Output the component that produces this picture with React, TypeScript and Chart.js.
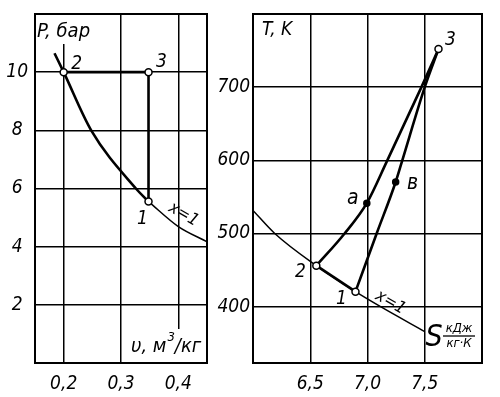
import React, { useEffect, useRef } from 'react';
import { Chart, registerables } from 'chart.js';
Chart.register(...registerables);

const FONT = "'DejaVu Sans Condensed', 'Liberation Sans Narrow', 'DejaVu Sans', sans-serif";

// ---------- P-v diagram ----------
const pvXTicks = [0.2, 0.3, 0.4];
const pvYTicks = [2, 4, 6, 8, 10];
const pvSatV = [0.184, 0.2, 0.248, 0.326, 0.348];
const pvSatP = [10.65, 10, 8, 6, 5.55];
const pvSatTailV = [0.348, 0.4, 0.45];
const pvSatTailP = [5.55, 4.69, 4.17];
const pvCycleV = [0.2, 0.348, 0.348];
const pvCycleP = [10, 10, 5.55];
const pvPointNames = ['1', '2', '3'];
const pvPointV = [0.348, 0.2, 0.348];
const pvPointP = [5.55, 10, 10];

// ---------- T-s diagram ----------
const tsXTicks = [6.5, 7.0, 7.5];
const tsYTicks = [400, 500, 600, 700];
const tsSatS = [6.0, 6.19, 6.553, 6.895, 7.114, 7.5];
const tsSatT = [531.5, 500, 456, 420.5, 400, 366];
const ts21S = [6.553, 6.895];
const ts21T = [456, 420.5];
const tsIsobarS = [6.553, 6.8, 6.994, 7.173, 7.471, 7.62];
const tsIsobarT = [456, 500, 541.5, 600, 700, 752];
const tsIsochoreS = [6.895, 7.08, 7.246, 7.304, 7.5, 7.62];
const tsIsochoreT = [420.5, 500, 570.4, 600, 700, 752];
const tsOpenNames = ['2', '1', '3'];
const tsOpenS = [6.553, 6.895, 7.62];
const tsOpenT = [456, 420.5, 752];
const tsDotNames = ['a', 'в'];
const tsDotS = [6.994, 7.246];
const tsDotT = [541.5, 570.4];

const zip = (xs: number[], ys: number[]) => xs.map((x, i) => ({ x, y: ys[i] }));
const fmt = (v: number) => v.toFixed(1).replace('.', ',');

function txt(ctx: CanvasRenderingContext2D, s: string, x: number, y: number, size: number, align: CanvasTextAlign = 'center', rot = 0, baseline: CanvasTextBaseline = 'middle') {
  ctx.save();
  ctx.font = `italic ${size}px ${FONT}`;
  ctx.fillStyle = '#000';
  ctx.textAlign = align;
  ctx.textBaseline = baseline;
  ctx.translate(x, y);
  if (rot) ctx.rotate((rot * Math.PI) / 180);
  ctx.fillText(s, 0, 0);
  ctx.restore();
}

function frame(chart: any) {
  const { ctx, chartArea: a } = chart;
  ctx.save();
  ctx.strokeStyle = '#000';
  ctx.lineWidth = 2;
  ctx.strokeRect(a.left, a.top, a.right - a.left, a.bottom - a.top);
  ctx.restore();
}

function whiteBox(ctx: CanvasRenderingContext2D, x: number, y: number, w: number, h: number) {
  ctx.save();
  ctx.fillStyle = '#fff';
  ctx.fillRect(x, y, w, h);
  ctx.restore();
}

const lineDs = (data: any[], width: number, order = 2) => ({
  data,
  showLine: true,
  borderColor: '#000',
  borderWidth: width,
  pointRadius: 0,
  cubicInterpolationMode: 'monotone' as const,
  order,
});

const pointDs = (data: any[], open: boolean) => ({
  data,
  showLine: false,
  pointRadius: open ? 3.5 : 3,
  pointBackgroundColor: open ? '#fff' : '#000',
  pointBorderColor: '#000',
  pointBorderWidth: 1.5,
  order: 0,
});

function axisOpts(min: number, max: number, tickVals: number[], fmtFn: (v: number) => string, isX: boolean, extra: any = {}) {
  return {
    type: 'linear',
    min,
    max,
    afterBuildTicks: (s: any) => {
      s.ticks = tickVals.map((v) => ({ value: v }));
    },
    afterFit: (s: any) => {
      if (isX) s.height = 34;
      else s.width = extra.width;
      s.paddingTop = 0;
      s.paddingBottom = 0;
      s.paddingLeft = 0;
      s.paddingRight = 0;
    },
    ticks: {
      callback: (v: any) => fmtFn(Number(v)),
      color: '#000',
      font: { family: FONT, size: 19, style: 'italic' },
      padding: extra.padding ?? 8,
      crossAlign: extra.crossAlign ?? 'near',
      maxRotation: 0,
      autoSkip: false,
    },
    grid: { color: '#000', lineWidth: 1.5, drawTicks: false },
    border: { color: '#000', width: 2 },
  };
}

function PvChart() {
  const ref = useRef<HTMLCanvasElement>(null);
  useEffect(() => {
    const plugin = {
      id: 'pvAnnot',
      beforeDatasetsDraw(chart: any) {
        const { ctx, chartArea: a } = chart;
        whiteBox(ctx, a.left + 1, a.top + 1, 60, 29);
        whiteBox(ctx, a.right - 81, a.bottom - 34, 80, 33);
      },
      afterDatasetsDraw(chart: any) {
        const { ctx, chartArea: a, scales } = chart;
        const X = (v: number) => scales.x.getPixelForValue(v);
        const Y = (v: number) => scales.y.getPixelForValue(v);
        frame(chart);
        txt(ctx, 'P, бар', a.left + 2, a.top + 23, 20, 'left', 0, 'alphabetic');
        const offs = [
          [-6, 17],
          [13, -8],
          [13, -10],
        ];
        pvPointNames.forEach((n, i) => {
          txt(ctx, n, X(pvPointV[i]) + offs[i][0], Y(pvPointP[i]) + offs[i][1], 19);
        });
        txt(ctx, 'x=1', X(pvPointV[0]) + 35, Y(pvPointP[0]) + 13, 17, 'center', 30);
        // axis label υ, м³/кг
        ctx.save();
        let x = a.right - 76;
        const yb = a.bottom - 11;
        ctx.font = `italic 20px ${FONT}`;
        const p1 = 'υ, м';
        txt(ctx, p1, x, yb, 20, 'left', 0, 'alphabetic');
        x += ctx.measureText(p1).width + 1;
        txt(ctx, '3', x, yb - 11, 13, 'left', 0, 'alphabetic');
        ctx.font = `italic 13px ${FONT}`;
        x += ctx.measureText('3').width;
        txt(ctx, '/кг', x, yb, 20, 'left', 0, 'alphabetic');
        ctx.restore();
      },
    };
    const chart = new Chart(ref.current as HTMLCanvasElement, {
      type: 'scatter',
      data: {
        datasets: [
          pointDs(zip(pvPointV, pvPointP), true),
          lineDs(zip(pvSatV, pvSatP), 2.6),
          lineDs(zip(pvSatTailV, pvSatTailP), 1.5),
          { ...lineDs(zip(pvCycleV, pvCycleP), 2.6), cubicInterpolationMode: 'default', tension: 0 },
        ] as any,
      },
      options: {
        animation: false,
        responsive: false,
        devicePixelRatio: 1,
        layout: { padding: { top: 14, right: 43, left: 0, bottom: 0 } },
        plugins: { legend: { display: false }, tooltip: { enabled: false } },
        scales: {
          x: axisOpts(0.15, 0.45, pvXTicks, fmt, true, { padding: 10 }),
          y: axisOpts(0, 12, pvYTicks, (v) => String(v), false, { width: 35, padding: 7, crossAlign: 'center' }),
        } as any,
      },
      plugins: [plugin],
    });
    return () => chart.destroy();
  }, []);
  return <canvas ref={ref} width={250} height={397} style={{ position: 'absolute', left: 0, top: 0, width: 250, height: 397 }} />;
}

function TsChart() {
  const ref = useRef<HTMLCanvasElement>(null);
  useEffect(() => {
    const plugin = {
      id: 'tsAnnot',
      afterDatasetsDraw(chart: any) {
        const { ctx, chartArea: a, scales } = chart;
        const X = (v: number) => scales.x.getPixelForValue(v);
        const Y = (v: number) => scales.y.getPixelForValue(v);
        frame(chart);
        txt(ctx, 'T, K', a.left + 9, a.top + 21, 19, 'left', 0, 'alphabetic');
        const openOffs = [
          [-16, 6],
          [-14, 7],
          [12, -9],
        ];
        tsOpenNames.forEach((n, i) => {
          txt(ctx, n, X(tsOpenS[i]) + openOffs[i][0], Y(tsOpenT[i]) + openOffs[i][1], 19);
        });
        const dotOffs = [
          [-14, -5],
          [17, 2],
        ];
        tsDotNames.forEach((n, i) => {
          txt(ctx, n, X(tsDotS[i]) + dotOffs[i][0], Y(tsDotT[i]) + dotOffs[i][1], 21);
        });
        txt(ctx, 'x=1', X(tsOpenS[1]) + 35, Y(tsOpenT[1]) + 11, 17, 'center', 30);
        // axis label S кДж/(кг·К)
        txt(ctx, 'S', a.right - 48, a.bottom - 25, 30);
        const fx = a.right - 23;
        txt(ctx, 'кДж', fx, a.bottom - 34, 13);
        txt(ctx, 'кг·К', fx, a.bottom - 19, 13);
        ctx.save();
        ctx.strokeStyle = '#000';
        ctx.lineWidth = 1.3;
        ctx.beginPath();
        ctx.moveTo(fx - 16, a.bottom - 27);
        ctx.lineTo(fx + 16, a.bottom - 27);
        ctx.stroke();
        ctx.restore();
      },
    };
    const chart = new Chart(ref.current as HTMLCanvasElement, {
      type: 'scatter',
      data: {
        datasets: [
          pointDs(zip(tsOpenS, tsOpenT), true),
          pointDs(zip(tsDotS, tsDotT), false),
          lineDs(zip(tsSatS, tsSatT), 1.5),
          { ...lineDs(zip(ts21S, ts21T), 2.8), cubicInterpolationMode: 'default', tension: 0 },
          lineDs(zip(tsIsobarS, tsIsobarT), 2.6),
          lineDs(zip(tsIsochoreS, tsIsochoreT), 2.6),
        ] as any,
      },
      options: {
        animation: false,
        responsive: false,
        devicePixelRatio: 1,
        layout: { padding: { top: 14, right: 18, left: 0, bottom: 0 } },
        plugins: { legend: { display: false }, tooltip: { enabled: false } },
        scales: {
          x: axisOpts(6.0, 8.0, tsXTicks, fmt, true, { padding: 10 }),
          y: axisOpts(323, 800, tsYTicks, (v) => String(v), false, { width: 43, padding: 3 }),
        } as any,
      },
      plugins: [plugin],
    });
    return () => chart.destroy();
  }, []);
  return <canvas ref={ref} width={290} height={397} style={{ position: 'absolute', left: 210, top: 0, width: 290, height: 397 }} />;
}

export default function App() {
  return (
    <div style={{ position: 'absolute', left: 0, top: 0, width: 500, height: 397, background: '#fff', overflow: 'hidden' }}>
      <PvChart />
      <TsChart />
    </div>
  );
}
